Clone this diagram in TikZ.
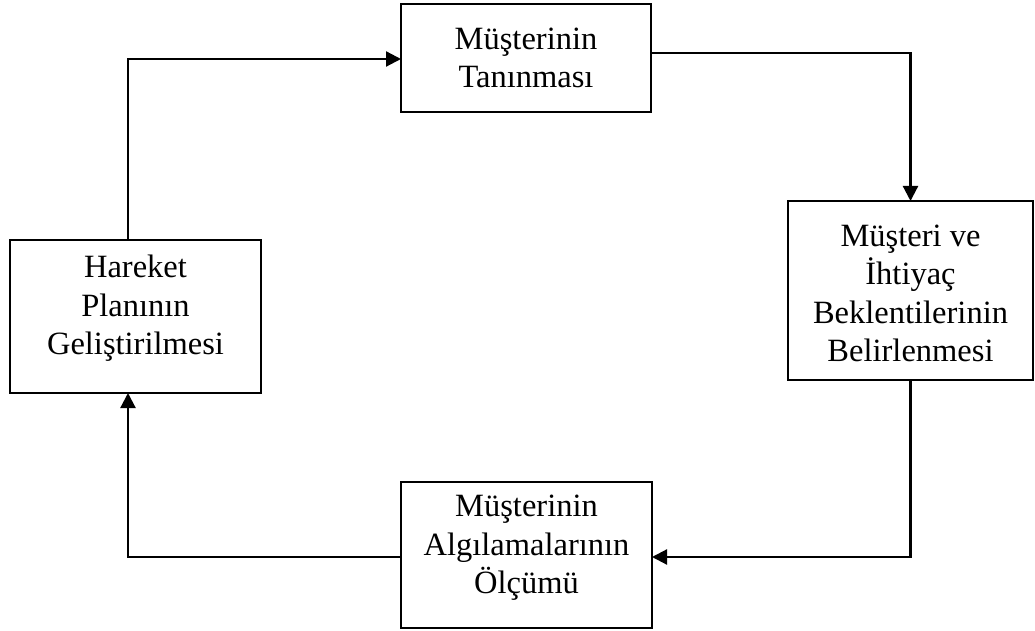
\documentclass[tikz,border=0pt]{standalone}
\usepackage{fontspec}
\setmainfont{Liberation Serif}
\usetikzlibrary{arrows.meta}
\begin{document}
\begin{tikzpicture}[x=1pt,y=-1pt,
  stagebox/.style={draw=black,line width=2.2pt,inner sep=0pt,outer sep=0pt,fill=white},
  stagetext/.style={align=center,inner sep=0pt,font=\fontsize{32.5}{38.5}\selectfont},
  flow/.style={draw=black,line width=2.2pt,-{Triangle[length=15pt,width=15pt]}}]
  \useasboundingbox[fill=white] (0,0) rectangle (1035,631);

  % the four stages of the cycle
  \node[stagebox,minimum width=250pt,minimum height=108pt] (know) at (526,58) {};
  \node[stagebox,minimum width=245pt,minimum height=179pt] (needs) at (910.5,290.5) {};
  \node[stagebox,minimum width=251pt,minimum height=146pt] (measure) at (526.5,555) {};
  \node[stagebox,minimum width=251pt,minimum height=153pt] (plan) at (135.5,316.5) {};

  \node[stagetext] (knowtxt) at (know.center) {Müşterinin\\Tanınması};
  \node[stagetext] (needstxt) at ([yshift=-3pt]needs.center) {Müşteri ve\\İhtiyaç\\Beklentilerinin\\Belirlenmesi};
  \node[stagetext] (measuretxt) at ([yshift=7pt]measure.center) {Müşterinin\\Algılamalarının\\Ölçümü};
  \node[stagetext] (plantxt) at ([yshift=8pt]plan.center) {Hareket\\Planının\\Geliştirilmesi};

  % connectors running clockwise
  \draw[flow] ([xshift=-7.5pt]plan.north) |- ([yshift=-1pt]know.west);
  \draw[flow] ([yshift=5pt]know.east) -| (needs.north);
  \draw[flow] (needs.south) |- ([yshift=-2pt]measure.east);
  \draw[flow] ([yshift=-2pt]measure.west) -| ([xshift=-7.5pt]plan.south);
\end{tikzpicture}
\end{document}
